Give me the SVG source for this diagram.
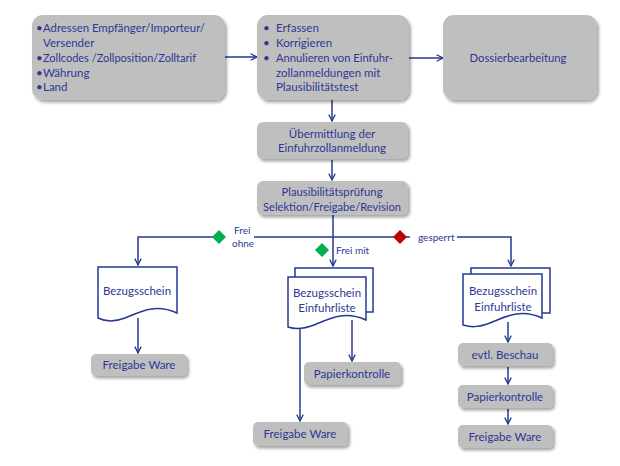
<svg xmlns="http://www.w3.org/2000/svg" width="620" height="466" viewBox="0 0 620 466">
<style>
  .box { fill: #bfbfbf; filter: url(#sh); }
  .t { font-family: Lato, "Liberation Sans", sans-serif; font-size: 11.5px; fill: #2e3796; }
  .s { font-size: 10px; }
  .c { text-anchor: middle; }
  .ln { stroke: #243a92; stroke-width: 1.5; fill: none; }
  .doc { fill: #ffffff; stroke: #243a92; stroke-width: 1.5; }
</style>
<defs>
  <filter id="sh" x="-10%" y="-10%" width="125%" height="140%">
    <feDropShadow dx="2" dy="2.5" stdDeviation="1.5" flood-color="#000" flood-opacity="0.35"/>
  </filter>
  <marker id="ar" viewBox="0 0 10 10" refX="9" refY="5" markerWidth="8" markerHeight="8" markerUnits="userSpaceOnUse" orient="auto">
    <path d="M1,1 L9,5 L1,9" fill="none" stroke="#243a92" stroke-width="1.6"/>
  </marker>
</defs>
<rect width="620" height="466" fill="#ffffff"/>

<g id="connectors">
  <line class="ln" x1="225" y1="57" x2="257" y2="57" marker-end="url(#ar)"/>
  <line class="ln" x1="409" y1="58" x2="443" y2="58" marker-end="url(#ar)"/>
  <line class="ln" x1="332" y1="100" x2="332" y2="121" marker-end="url(#ar)"/>
  <line class="ln" x1="332" y1="160" x2="332" y2="180" marker-end="url(#ar)"/>
  <line class="ln" x1="333" y1="215" x2="333" y2="266" marker-end="url(#ar)"/>
  <polyline class="ln" points="225,237 138,237 138,265" marker-end="url(#ar)"/>
  <line class="ln" x1="254" y1="237" x2="410" y2="237"/>
  <polyline class="ln" points="457,237 511,237 511,266" marker-end="url(#ar)"/>
  <line class="ln" x1="138" y1="318" x2="138" y2="353" marker-end="url(#ar)"/>
  <line class="ln" x1="300" y1="326" x2="300" y2="421" marker-end="url(#ar)"/>
  <line class="ln" x1="352" y1="320" x2="352" y2="361" marker-end="url(#ar)"/>
  <line class="ln" x1="508" y1="322" x2="508" y2="342" marker-end="url(#ar)"/>
  <line class="ln" x1="508" y1="367" x2="508" y2="384" marker-end="url(#ar)"/>
  <line class="ln" x1="508" y1="409" x2="508" y2="424" marker-end="url(#ar)"/>
  <path d="M219,230 L226,237 L219,244 L212,237 Z" fill="#00b050"/>
  <path d="M322,243 L329,250 L322,257 L315,250 Z" fill="#00b050"/>
  <path d="M400,230 L407,237 L400,244 L393,237 Z" fill="#c00000"/>
  <text class="t s" x="234" y="233.5">Frei</text>
  <text class="t s" x="232" y="247">ohne</text>
  <text class="t s" x="336" y="254">Frei mit</text>
  <text class="t s" x="418" y="240.5">gesperrt</text>
</g>

<g id="n-daten">
  <rect class="box" x="32" y="15" width="193" height="85" rx="11"/>
  <text class="t" x="36" y="32">•</text><text class="t" x="43" y="32" textLength="162" lengthAdjust="spacingAndGlyphs">Adressen Empfänger/Importeur/</text>
  <text class="t" x="43" y="47">Versender</text>
  <text class="t" x="36" y="62">•</text><text class="t" x="43" y="62" textLength="153" lengthAdjust="spacingAndGlyphs">Zollcodes /Zollposition/Zolltarif</text>
  <text class="t" x="36" y="77">•</text><text class="t" x="43" y="77">Währung</text>
  <text class="t" x="36" y="91">•</text><text class="t" x="43" y="91">Land</text>
</g>

<g id="n-erfassen">
  <rect class="box" x="257" y="15" width="152" height="85" rx="11"/>
  <text class="t" x="263" y="32">•</text><text class="t" x="276" y="32">Erfassen</text>
  <text class="t" x="263" y="47">•</text><text class="t" x="276" y="47">Korrigieren</text>
  <text class="t" x="263" y="62">•</text><text class="t" x="276" y="62" textLength="117" lengthAdjust="spacingAndGlyphs">Annulieren von Einfuhr-</text>
  <text class="t" x="276" y="77">zollanmeldungen mit</text>
  <text class="t" x="276" y="91">Plausibilitätstest</text>
</g>

<g id="n-dossier">
  <rect class="box" x="443" y="15" width="154" height="85" rx="11"/>
  <text class="t c" x="518" y="62" textLength="97" lengthAdjust="spacingAndGlyphs">Dossierbearbeitung</text>
</g>

<g id="n-uebermittlung">
  <rect class="box" x="257" y="122" width="151" height="37" rx="6"/>
  <text class="t c" x="332" y="138">Übermittlung der</text>
  <text class="t c" x="332" y="152" textLength="108" lengthAdjust="spacingAndGlyphs">Einfuhrzollanmeldung</text>
</g>

<g id="n-plausi">
  <rect class="box" x="257" y="181" width="151" height="34" rx="6"/>
  <text class="t c" x="332" y="196" textLength="101" lengthAdjust="spacingAndGlyphs">Plausibilitätsprüfung</text>
  <text class="t c" x="332" y="211" textLength="138" lengthAdjust="spacingAndGlyphs">Selektion/Freigabe/Revision</text>
</g>

<g id="n-doc-links">
  <path class="doc" d="M98,267 H177 V313 C155,303 140,312 125,318 C112,323 104,321 98,318 Z"/>
  <text class="t c" x="137" y="295">Bezugsschein</text>
</g>

<g id="n-freigabe-links">
  <rect class="box" x="91" y="354" width="96" height="22" rx="5"/>
  <text class="t c" x="139" y="369">Freigabe Ware</text>
</g>

<g id="n-doc-mitte">
  <rect class="doc" x="295" y="268" width="78" height="44"/>
  <path class="doc" d="M288,277 H366 V320 C344,310 329,319 314,325 C301,330 294,329 288,327 Z"/>
  <text class="t c" x="327" y="297">Bezugsschein</text>
  <text class="t c" x="327" y="312">Einfuhrliste</text>
</g>

<g id="n-papier-mitte">
  <rect class="box" x="304" y="362" width="97" height="23" rx="5"/>
  <text class="t c" x="352" y="378">Papierkontrolle</text>
</g>

<g id="n-freigabe-mitte">
  <rect class="box" x="253" y="422" width="95" height="24" rx="5"/>
  <text class="t c" x="300" y="438">Freigabe Ware</text>
</g>

<g id="n-doc-rechts">
  <rect class="doc" x="471" y="268" width="79" height="45"/>
  <path class="doc" d="M463,274 H542 V318 C520,308 505,317 490,323 C477,328 470,327 463,325 Z"/>
  <text class="t c" x="503" y="295">Bezugsschein</text>
  <text class="t c" x="503" y="311">Einfuhrliste</text>
</g>

<g id="n-beschau">
  <rect class="box" x="458" y="343" width="95" height="23" rx="5"/>
  <text class="t c" x="505" y="359">evtl. Beschau</text>
</g>

<g id="n-papier-rechts">
  <rect class="box" x="458" y="385" width="95" height="23" rx="5"/>
  <text class="t c" x="505" y="401">Papierkontrolle</text>
</g>

<g id="n-freigabe-rechts">
  <rect class="box" x="458" y="425" width="95" height="23" rx="5"/>
  <text class="t c" x="505" y="441">Freigabe Ware</text>
</g>
</svg>
